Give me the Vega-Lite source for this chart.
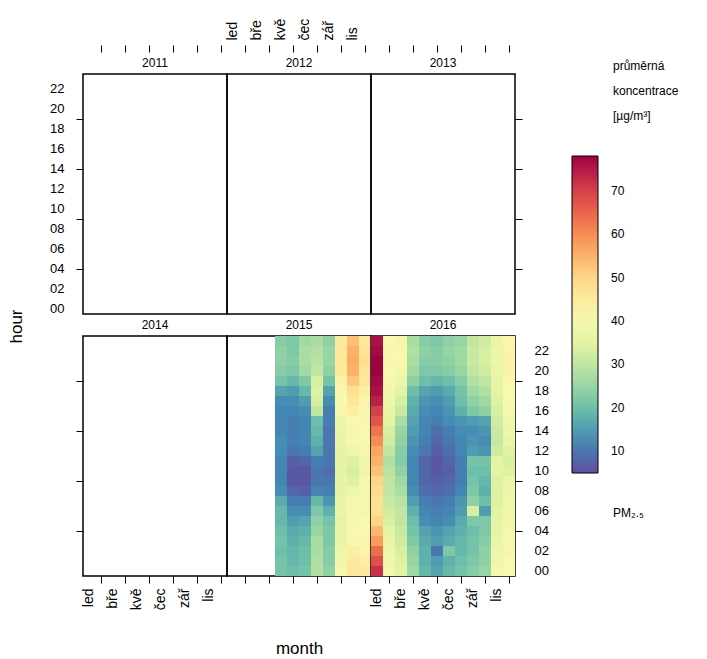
{
"$schema": "https://vega.github.io/schema/vega-lite/v6.json",
"padding": {"left": 6, "top": 17, "right": 0, "bottom": 0},
"config": {
  "font": "Liberation Sans",
  "view": {"stroke": "black", "strokeWidth": 1.5},
  "axis": {"grid": false, "domain": false, "tickColor": "black", "tickSize": 7, "tickWidth": 1, "labelColor": "black", "labelFont": "Liberation Sans", "labelOverlap": false, "titleFont": "Liberation Sans", "titleFontWeight": "normal", "titleColor": "black"},
  "text": {"font": "Liberation Sans", "color": "black"}
},
"datasets": {
  "panels": [{"yr": 2011}, {"yr": 2012}, {"yr": 2013}, {"yr": 2014}, {"yr": 2015}, {"yr": 2016}],
  "notes": [{"part": "top", "line": "průměrná"}, {"part": "top", "line": "koncentrace"}, {"part": "top", "line": "[µg/m³]"}, {"part": "bottom", "line": "PM₂.₅"}],
  "pm": [
{"yr":2015,"mo":5,"hr":0,"pm":21},{"yr":2015,"mo":5,"hr":1,"pm":21},{"yr":2015,"mo":5,"hr":2,"pm":20},{"yr":2015,"mo":5,"hr":3,"pm":21},{"yr":2015,"mo":5,"hr":4,"pm":20},{"yr":2015,"mo":5,"hr":5,"pm":19},{"yr":2015,"mo":5,"hr":6,"pm":19},{"yr":2015,"mo":5,"hr":7,"pm":17},{"yr":2015,"mo":5,"hr":8,"pm":13},{"yr":2015,"mo":5,"hr":9,"pm":12},{"yr":2015,"mo":5,"hr":10,"pm":12},{"yr":2015,"mo":5,"hr":11,"pm":12},{"yr":2015,"mo":5,"hr":12,"pm":13},{"yr":2015,"mo":5,"hr":13,"pm":13},{"yr":2015,"mo":5,"hr":14,"pm":12},{"yr":2015,"mo":5,"hr":15,"pm":12},{"yr":2015,"mo":5,"hr":16,"pm":12},{"yr":2015,"mo":5,"hr":17,"pm":13},{"yr":2015,"mo":5,"hr":18,"pm":16},{"yr":2015,"mo":5,"hr":19,"pm":21},{"yr":2015,"mo":5,"hr":20,"pm":23},{"yr":2015,"mo":5,"hr":21,"pm":24},{"yr":2015,"mo":5,"hr":22,"pm":24},{"yr":2015,"mo":5,"hr":23,"pm":23},
{"yr":2015,"mo":6,"hr":0,"pm":20},{"yr":2015,"mo":6,"hr":1,"pm":19},{"yr":2015,"mo":6,"hr":2,"pm":19},{"yr":2015,"mo":6,"hr":3,"pm":18},{"yr":2015,"mo":6,"hr":4,"pm":17},{"yr":2015,"mo":6,"hr":5,"pm":15},{"yr":2015,"mo":6,"hr":6,"pm":13},{"yr":2015,"mo":6,"hr":7,"pm":11},{"yr":2015,"mo":6,"hr":8,"pm":8},{"yr":2015,"mo":6,"hr":9,"pm":6},{"yr":2015,"mo":6,"hr":10,"pm":6},{"yr":2015,"mo":6,"hr":11,"pm":7},{"yr":2015,"mo":6,"hr":12,"pm":10},{"yr":2015,"mo":6,"hr":13,"pm":11},{"yr":2015,"mo":6,"hr":14,"pm":11},{"yr":2015,"mo":6,"hr":15,"pm":11},{"yr":2015,"mo":6,"hr":16,"pm":12},{"yr":2015,"mo":6,"hr":17,"pm":13},{"yr":2015,"mo":6,"hr":18,"pm":15},{"yr":2015,"mo":6,"hr":19,"pm":19},{"yr":2015,"mo":6,"hr":20,"pm":22},{"yr":2015,"mo":6,"hr":21,"pm":23},{"yr":2015,"mo":6,"hr":22,"pm":22},{"yr":2015,"mo":6,"hr":23,"pm":22},
{"yr":2015,"mo":7,"hr":0,"pm":21},{"yr":2015,"mo":7,"hr":1,"pm":20},{"yr":2015,"mo":7,"hr":2,"pm":20},{"yr":2015,"mo":7,"hr":3,"pm":19},{"yr":2015,"mo":7,"hr":4,"pm":18},{"yr":2015,"mo":7,"hr":5,"pm":16},{"yr":2015,"mo":7,"hr":6,"pm":13},{"yr":2015,"mo":7,"hr":7,"pm":11},{"yr":2015,"mo":7,"hr":8,"pm":7},{"yr":2015,"mo":7,"hr":9,"pm":6},{"yr":2015,"mo":7,"hr":10,"pm":6},{"yr":2015,"mo":7,"hr":11,"pm":8},{"yr":2015,"mo":7,"hr":12,"pm":11},{"yr":2015,"mo":7,"hr":13,"pm":12},{"yr":2015,"mo":7,"hr":14,"pm":12},{"yr":2015,"mo":7,"hr":15,"pm":12},{"yr":2015,"mo":7,"hr":16,"pm":13},{"yr":2015,"mo":7,"hr":17,"pm":15},{"yr":2015,"mo":7,"hr":18,"pm":19},{"yr":2015,"mo":7,"hr":19,"pm":22},{"yr":2015,"mo":7,"hr":20,"pm":26},{"yr":2015,"mo":7,"hr":21,"pm":27},{"yr":2015,"mo":7,"hr":22,"pm":27},{"yr":2015,"mo":7,"hr":23,"pm":26},
{"yr":2015,"mo":8,"hr":0,"pm":28},{"yr":2015,"mo":8,"hr":1,"pm":28},{"yr":2015,"mo":8,"hr":2,"pm":27},{"yr":2015,"mo":8,"hr":3,"pm":27},{"yr":2015,"mo":8,"hr":4,"pm":25},{"yr":2015,"mo":8,"hr":5,"pm":24},{"yr":2015,"mo":8,"hr":6,"pm":22},{"yr":2015,"mo":8,"hr":7,"pm":19},{"yr":2015,"mo":8,"hr":8,"pm":12},{"yr":2015,"mo":8,"hr":9,"pm":10},{"yr":2015,"mo":8,"hr":10,"pm":10},{"yr":2015,"mo":8,"hr":11,"pm":11},{"yr":2015,"mo":8,"hr":12,"pm":16},{"yr":2015,"mo":8,"hr":13,"pm":18},{"yr":2015,"mo":8,"hr":14,"pm":19},{"yr":2015,"mo":8,"hr":15,"pm":20},{"yr":2015,"mo":8,"hr":16,"pm":30},{"yr":2015,"mo":8,"hr":17,"pm":33},{"yr":2015,"mo":8,"hr":18,"pm":34},{"yr":2015,"mo":8,"hr":19,"pm":33},{"yr":2015,"mo":8,"hr":20,"pm":30},{"yr":2015,"mo":8,"hr":21,"pm":29},{"yr":2015,"mo":8,"hr":22,"pm":28},{"yr":2015,"mo":8,"hr":23,"pm":27},
{"yr":2015,"mo":9,"hr":0,"pm":24},{"yr":2015,"mo":9,"hr":1,"pm":23},{"yr":2015,"mo":9,"hr":2,"pm":23},{"yr":2015,"mo":9,"hr":3,"pm":22},{"yr":2015,"mo":9,"hr":4,"pm":22},{"yr":2015,"mo":9,"hr":5,"pm":21},{"yr":2015,"mo":9,"hr":6,"pm":18},{"yr":2015,"mo":9,"hr":7,"pm":14},{"yr":2015,"mo":9,"hr":8,"pm":11},{"yr":2015,"mo":9,"hr":9,"pm":10},{"yr":2015,"mo":9,"hr":10,"pm":9},{"yr":2015,"mo":9,"hr":11,"pm":10},{"yr":2015,"mo":9,"hr":12,"pm":10},{"yr":2015,"mo":9,"hr":13,"pm":10},{"yr":2015,"mo":9,"hr":14,"pm":10},{"yr":2015,"mo":9,"hr":15,"pm":11},{"yr":2015,"mo":9,"hr":16,"pm":11},{"yr":2015,"mo":9,"hr":17,"pm":13},{"yr":2015,"mo":9,"hr":18,"pm":16},{"yr":2015,"mo":9,"hr":19,"pm":21},{"yr":2015,"mo":9,"hr":20,"pm":24},{"yr":2015,"mo":9,"hr":21,"pm":25},{"yr":2015,"mo":9,"hr":22,"pm":25},{"yr":2015,"mo":9,"hr":23,"pm":24},
{"yr":2015,"mo":10,"hr":0,"pm":40},{"yr":2015,"mo":10,"hr":1,"pm":39},{"yr":2015,"mo":10,"hr":2,"pm":38},{"yr":2015,"mo":10,"hr":3,"pm":37},{"yr":2015,"mo":10,"hr":4,"pm":37},{"yr":2015,"mo":10,"hr":5,"pm":36},{"yr":2015,"mo":10,"hr":6,"pm":37},{"yr":2015,"mo":10,"hr":7,"pm":37},{"yr":2015,"mo":10,"hr":8,"pm":36},{"yr":2015,"mo":10,"hr":9,"pm":36},{"yr":2015,"mo":10,"hr":10,"pm":35},{"yr":2015,"mo":10,"hr":11,"pm":36},{"yr":2015,"mo":10,"hr":12,"pm":36},{"yr":2015,"mo":10,"hr":13,"pm":37},{"yr":2015,"mo":10,"hr":14,"pm":37},{"yr":2015,"mo":10,"hr":15,"pm":38},{"yr":2015,"mo":10,"hr":16,"pm":40},{"yr":2015,"mo":10,"hr":17,"pm":41},{"yr":2015,"mo":10,"hr":18,"pm":42},{"yr":2015,"mo":10,"hr":19,"pm":43},{"yr":2015,"mo":10,"hr":20,"pm":45},{"yr":2015,"mo":10,"hr":21,"pm":46},{"yr":2015,"mo":10,"hr":22,"pm":46},{"yr":2015,"mo":10,"hr":23,"pm":45},
{"yr":2015,"mo":11,"hr":0,"pm":46},{"yr":2015,"mo":11,"hr":1,"pm":45},{"yr":2015,"mo":11,"hr":2,"pm":44},{"yr":2015,"mo":11,"hr":3,"pm":42},{"yr":2015,"mo":11,"hr":4,"pm":41},{"yr":2015,"mo":11,"hr":5,"pm":40},{"yr":2015,"mo":11,"hr":6,"pm":40},{"yr":2015,"mo":11,"hr":7,"pm":40},{"yr":2015,"mo":11,"hr":8,"pm":38},{"yr":2015,"mo":11,"hr":9,"pm":34},{"yr":2015,"mo":11,"hr":10,"pm":33},{"yr":2015,"mo":11,"hr":11,"pm":34},{"yr":2015,"mo":11,"hr":12,"pm":38},{"yr":2015,"mo":11,"hr":13,"pm":40},{"yr":2015,"mo":11,"hr":14,"pm":40},{"yr":2015,"mo":11,"hr":15,"pm":41},{"yr":2015,"mo":11,"hr":16,"pm":44},{"yr":2015,"mo":11,"hr":17,"pm":46},{"yr":2015,"mo":11,"hr":18,"pm":48},{"yr":2015,"mo":11,"hr":19,"pm":52},{"yr":2015,"mo":11,"hr":20,"pm":55},{"yr":2015,"mo":11,"hr":21,"pm":56},{"yr":2015,"mo":11,"hr":22,"pm":55},{"yr":2015,"mo":11,"hr":23,"pm":53},
{"yr":2015,"mo":12,"hr":0,"pm":45},{"yr":2015,"mo":12,"hr":1,"pm":44},{"yr":2015,"mo":12,"hr":2,"pm":43},{"yr":2015,"mo":12,"hr":3,"pm":42},{"yr":2015,"mo":12,"hr":4,"pm":41},{"yr":2015,"mo":12,"hr":5,"pm":41},{"yr":2015,"mo":12,"hr":6,"pm":40},{"yr":2015,"mo":12,"hr":7,"pm":40},{"yr":2015,"mo":12,"hr":8,"pm":40},{"yr":2015,"mo":12,"hr":9,"pm":40},{"yr":2015,"mo":12,"hr":10,"pm":39},{"yr":2015,"mo":12,"hr":11,"pm":39},{"yr":2015,"mo":12,"hr":12,"pm":40},{"yr":2015,"mo":12,"hr":13,"pm":41},{"yr":2015,"mo":12,"hr":14,"pm":41},{"yr":2015,"mo":12,"hr":15,"pm":42},{"yr":2015,"mo":12,"hr":16,"pm":42},{"yr":2015,"mo":12,"hr":17,"pm":43},{"yr":2015,"mo":12,"hr":18,"pm":44},{"yr":2015,"mo":12,"hr":19,"pm":46},{"yr":2015,"mo":12,"hr":20,"pm":47},{"yr":2015,"mo":12,"hr":21,"pm":48},{"yr":2015,"mo":12,"hr":22,"pm":47},{"yr":2015,"mo":12,"hr":23,"pm":46},
{"yr":2016,"mo":1,"hr":0,"pm":72},{"yr":2016,"mo":1,"hr":1,"pm":68},{"yr":2016,"mo":1,"hr":2,"pm":64},{"yr":2016,"mo":1,"hr":3,"pm":58},{"yr":2016,"mo":1,"hr":4,"pm":54},{"yr":2016,"mo":1,"hr":5,"pm":50},{"yr":2016,"mo":1,"hr":6,"pm":48},{"yr":2016,"mo":1,"hr":7,"pm":48},{"yr":2016,"mo":1,"hr":8,"pm":49},{"yr":2016,"mo":1,"hr":9,"pm":50},{"yr":2016,"mo":1,"hr":10,"pm":53},{"yr":2016,"mo":1,"hr":11,"pm":55},{"yr":2016,"mo":1,"hr":12,"pm":57},{"yr":2016,"mo":1,"hr":13,"pm":60},{"yr":2016,"mo":1,"hr":14,"pm":63},{"yr":2016,"mo":1,"hr":15,"pm":67},{"yr":2016,"mo":1,"hr":16,"pm":70},{"yr":2016,"mo":1,"hr":17,"pm":74},{"yr":2016,"mo":1,"hr":18,"pm":76},{"yr":2016,"mo":1,"hr":19,"pm":77},{"yr":2016,"mo":1,"hr":20,"pm":78},{"yr":2016,"mo":1,"hr":21,"pm":78},{"yr":2016,"mo":1,"hr":22,"pm":77},{"yr":2016,"mo":1,"hr":23,"pm":76},
{"yr":2016,"mo":2,"hr":0,"pm":40},{"yr":2016,"mo":2,"hr":1,"pm":39},{"yr":2016,"mo":2,"hr":2,"pm":38},{"yr":2016,"mo":2,"hr":3,"pm":37},{"yr":2016,"mo":2,"hr":4,"pm":35},{"yr":2016,"mo":2,"hr":5,"pm":33},{"yr":2016,"mo":2,"hr":6,"pm":32},{"yr":2016,"mo":2,"hr":7,"pm":31},{"yr":2016,"mo":2,"hr":8,"pm":30},{"yr":2016,"mo":2,"hr":9,"pm":30},{"yr":2016,"mo":2,"hr":10,"pm":29},{"yr":2016,"mo":2,"hr":11,"pm":28},{"yr":2016,"mo":2,"hr":12,"pm":30},{"yr":2016,"mo":2,"hr":13,"pm":32},{"yr":2016,"mo":2,"hr":14,"pm":33},{"yr":2016,"mo":2,"hr":15,"pm":35},{"yr":2016,"mo":2,"hr":16,"pm":37},{"yr":2016,"mo":2,"hr":17,"pm":38},{"yr":2016,"mo":2,"hr":18,"pm":39},{"yr":2016,"mo":2,"hr":19,"pm":40},{"yr":2016,"mo":2,"hr":20,"pm":41},{"yr":2016,"mo":2,"hr":21,"pm":42},{"yr":2016,"mo":2,"hr":22,"pm":42},{"yr":2016,"mo":2,"hr":23,"pm":41},
{"yr":2016,"mo":3,"hr":0,"pm":35},{"yr":2016,"mo":3,"hr":1,"pm":34},{"yr":2016,"mo":3,"hr":2,"pm":33},{"yr":2016,"mo":3,"hr":3,"pm":32},{"yr":2016,"mo":3,"hr":4,"pm":31},{"yr":2016,"mo":3,"hr":5,"pm":30},{"yr":2016,"mo":3,"hr":6,"pm":30},{"yr":2016,"mo":3,"hr":7,"pm":29},{"yr":2016,"mo":3,"hr":8,"pm":27},{"yr":2016,"mo":3,"hr":9,"pm":26},{"yr":2016,"mo":3,"hr":10,"pm":24},{"yr":2016,"mo":3,"hr":11,"pm":23},{"yr":2016,"mo":3,"hr":12,"pm":23},{"yr":2016,"mo":3,"hr":13,"pm":24},{"yr":2016,"mo":3,"hr":14,"pm":25},{"yr":2016,"mo":3,"hr":15,"pm":27},{"yr":2016,"mo":3,"hr":16,"pm":31},{"yr":2016,"mo":3,"hr":17,"pm":33},{"yr":2016,"mo":3,"hr":18,"pm":35},{"yr":2016,"mo":3,"hr":19,"pm":38},{"yr":2016,"mo":3,"hr":20,"pm":40},{"yr":2016,"mo":3,"hr":21,"pm":41},{"yr":2016,"mo":3,"hr":22,"pm":41},{"yr":2016,"mo":3,"hr":23,"pm":40},
{"yr":2016,"mo":4,"hr":0,"pm":26},{"yr":2016,"mo":4,"hr":1,"pm":25},{"yr":2016,"mo":4,"hr":2,"pm":24},{"yr":2016,"mo":4,"hr":3,"pm":22},{"yr":2016,"mo":4,"hr":4,"pm":21},{"yr":2016,"mo":4,"hr":5,"pm":20},{"yr":2016,"mo":4,"hr":6,"pm":18},{"yr":2016,"mo":4,"hr":7,"pm":15},{"yr":2016,"mo":4,"hr":8,"pm":13},{"yr":2016,"mo":4,"hr":9,"pm":12},{"yr":2016,"mo":4,"hr":10,"pm":12},{"yr":2016,"mo":4,"hr":11,"pm":12},{"yr":2016,"mo":4,"hr":12,"pm":13},{"yr":2016,"mo":4,"hr":13,"pm":14},{"yr":2016,"mo":4,"hr":14,"pm":15},{"yr":2016,"mo":4,"hr":15,"pm":16},{"yr":2016,"mo":4,"hr":16,"pm":17},{"yr":2016,"mo":4,"hr":17,"pm":18},{"yr":2016,"mo":4,"hr":18,"pm":20},{"yr":2016,"mo":4,"hr":19,"pm":24},{"yr":2016,"mo":4,"hr":20,"pm":26},{"yr":2016,"mo":4,"hr":21,"pm":27},{"yr":2016,"mo":4,"hr":22,"pm":28},{"yr":2016,"mo":4,"hr":23,"pm":27},
{"yr":2016,"mo":5,"hr":0,"pm":19},{"yr":2016,"mo":5,"hr":1,"pm":18},{"yr":2016,"mo":5,"hr":2,"pm":18},{"yr":2016,"mo":5,"hr":3,"pm":17},{"yr":2016,"mo":5,"hr":4,"pm":16},{"yr":2016,"mo":5,"hr":5,"pm":13},{"yr":2016,"mo":5,"hr":6,"pm":12},{"yr":2016,"mo":5,"hr":7,"pm":11},{"yr":2016,"mo":5,"hr":8,"pm":9},{"yr":2016,"mo":5,"hr":9,"pm":8},{"yr":2016,"mo":5,"hr":10,"pm":8},{"yr":2016,"mo":5,"hr":11,"pm":8},{"yr":2016,"mo":5,"hr":12,"pm":10},{"yr":2016,"mo":5,"hr":13,"pm":11},{"yr":2016,"mo":5,"hr":14,"pm":12},{"yr":2016,"mo":5,"hr":15,"pm":12},{"yr":2016,"mo":5,"hr":16,"pm":13},{"yr":2016,"mo":5,"hr":17,"pm":14},{"yr":2016,"mo":5,"hr":18,"pm":16},{"yr":2016,"mo":5,"hr":19,"pm":20},{"yr":2016,"mo":5,"hr":20,"pm":22},{"yr":2016,"mo":5,"hr":21,"pm":23},{"yr":2016,"mo":5,"hr":22,"pm":24},{"yr":2016,"mo":5,"hr":23,"pm":23},
{"yr":2016,"mo":6,"hr":0,"pm":16},{"yr":2016,"mo":6,"hr":1,"pm":15},{"yr":2016,"mo":6,"hr":2,"pm":10},{"yr":2016,"mo":6,"hr":3,"pm":15},{"yr":2016,"mo":6,"hr":4,"pm":14},{"yr":2016,"mo":6,"hr":5,"pm":12},{"yr":2016,"mo":6,"hr":6,"pm":11},{"yr":2016,"mo":6,"hr":7,"pm":10},{"yr":2016,"mo":6,"hr":8,"pm":8},{"yr":2016,"mo":6,"hr":9,"pm":7},{"yr":2016,"mo":6,"hr":10,"pm":6},{"yr":2016,"mo":6,"hr":11,"pm":6},{"yr":2016,"mo":6,"hr":12,"pm":7},{"yr":2016,"mo":6,"hr":13,"pm":8},{"yr":2016,"mo":6,"hr":14,"pm":9},{"yr":2016,"mo":6,"hr":15,"pm":11},{"yr":2016,"mo":6,"hr":16,"pm":12},{"yr":2016,"mo":6,"hr":17,"pm":13},{"yr":2016,"mo":6,"hr":18,"pm":15},{"yr":2016,"mo":6,"hr":19,"pm":19},{"yr":2016,"mo":6,"hr":20,"pm":22},{"yr":2016,"mo":6,"hr":21,"pm":23},{"yr":2016,"mo":6,"hr":22,"pm":23},{"yr":2016,"mo":6,"hr":23,"pm":22},
{"yr":2016,"mo":7,"hr":0,"pm":19},{"yr":2016,"mo":7,"hr":1,"pm":18},{"yr":2016,"mo":7,"hr":2,"pm":22},{"yr":2016,"mo":7,"hr":3,"pm":17},{"yr":2016,"mo":7,"hr":4,"pm":16},{"yr":2016,"mo":7,"hr":5,"pm":13},{"yr":2016,"mo":7,"hr":6,"pm":12},{"yr":2016,"mo":7,"hr":7,"pm":11},{"yr":2016,"mo":7,"hr":8,"pm":9},{"yr":2016,"mo":7,"hr":9,"pm":8},{"yr":2016,"mo":7,"hr":10,"pm":7},{"yr":2016,"mo":7,"hr":11,"pm":8},{"yr":2016,"mo":7,"hr":12,"pm":9},{"yr":2016,"mo":7,"hr":13,"pm":10},{"yr":2016,"mo":7,"hr":14,"pm":11},{"yr":2016,"mo":7,"hr":15,"pm":13},{"yr":2016,"mo":7,"hr":16,"pm":14},{"yr":2016,"mo":7,"hr":17,"pm":15},{"yr":2016,"mo":7,"hr":18,"pm":17},{"yr":2016,"mo":7,"hr":19,"pm":20},{"yr":2016,"mo":7,"hr":20,"pm":23},{"yr":2016,"mo":7,"hr":21,"pm":24},{"yr":2016,"mo":7,"hr":22,"pm":25},{"yr":2016,"mo":7,"hr":23,"pm":24},
{"yr":2016,"mo":8,"hr":0,"pm":21},{"yr":2016,"mo":8,"hr":1,"pm":20},{"yr":2016,"mo":8,"hr":2,"pm":19},{"yr":2016,"mo":8,"hr":3,"pm":19},{"yr":2016,"mo":8,"hr":4,"pm":18},{"yr":2016,"mo":8,"hr":5,"pm":17},{"yr":2016,"mo":8,"hr":6,"pm":15},{"yr":2016,"mo":8,"hr":7,"pm":14},{"yr":2016,"mo":8,"hr":8,"pm":12},{"yr":2016,"mo":8,"hr":9,"pm":11},{"yr":2016,"mo":8,"hr":10,"pm":11},{"yr":2016,"mo":8,"hr":11,"pm":11},{"yr":2016,"mo":8,"hr":12,"pm":12},{"yr":2016,"mo":8,"hr":13,"pm":12},{"yr":2016,"mo":8,"hr":14,"pm":13},{"yr":2016,"mo":8,"hr":15,"pm":14},{"yr":2016,"mo":8,"hr":16,"pm":18},{"yr":2016,"mo":8,"hr":17,"pm":20},{"yr":2016,"mo":8,"hr":18,"pm":21},{"yr":2016,"mo":8,"hr":19,"pm":23},{"yr":2016,"mo":8,"hr":20,"pm":25},{"yr":2016,"mo":8,"hr":21,"pm":26},{"yr":2016,"mo":8,"hr":22,"pm":26},{"yr":2016,"mo":8,"hr":23,"pm":25},
{"yr":2016,"mo":9,"hr":0,"pm":23},{"yr":2016,"mo":9,"hr":1,"pm":22},{"yr":2016,"mo":9,"hr":2,"pm":21},{"yr":2016,"mo":9,"hr":3,"pm":21},{"yr":2016,"mo":9,"hr":4,"pm":20},{"yr":2016,"mo":9,"hr":5,"pm":22},{"yr":2016,"mo":9,"hr":6,"pm":33},{"yr":2016,"mo":9,"hr":7,"pm":24},{"yr":2016,"mo":9,"hr":8,"pm":22},{"yr":2016,"mo":9,"hr":9,"pm":21},{"yr":2016,"mo":9,"hr":10,"pm":20},{"yr":2016,"mo":9,"hr":11,"pm":21},{"yr":2016,"mo":9,"hr":12,"pm":15},{"yr":2016,"mo":9,"hr":13,"pm":14},{"yr":2016,"mo":9,"hr":14,"pm":13},{"yr":2016,"mo":9,"hr":15,"pm":15},{"yr":2016,"mo":9,"hr":16,"pm":22},{"yr":2016,"mo":9,"hr":17,"pm":24},{"yr":2016,"mo":9,"hr":18,"pm":26},{"yr":2016,"mo":9,"hr":19,"pm":28},{"yr":2016,"mo":9,"hr":20,"pm":30},{"yr":2016,"mo":9,"hr":21,"pm":31},{"yr":2016,"mo":9,"hr":22,"pm":31},{"yr":2016,"mo":9,"hr":23,"pm":30},
{"yr":2016,"mo":10,"hr":0,"pm":25},{"yr":2016,"mo":10,"hr":1,"pm":24},{"yr":2016,"mo":10,"hr":2,"pm":24},{"yr":2016,"mo":10,"hr":3,"pm":23},{"yr":2016,"mo":10,"hr":4,"pm":22},{"yr":2016,"mo":10,"hr":5,"pm":22},{"yr":2016,"mo":10,"hr":6,"pm":15},{"yr":2016,"mo":10,"hr":7,"pm":20},{"yr":2016,"mo":10,"hr":8,"pm":18},{"yr":2016,"mo":10,"hr":9,"pm":19},{"yr":2016,"mo":10,"hr":10,"pm":20},{"yr":2016,"mo":10,"hr":11,"pm":21},{"yr":2016,"mo":10,"hr":12,"pm":14},{"yr":2016,"mo":10,"hr":13,"pm":13},{"yr":2016,"mo":10,"hr":14,"pm":14},{"yr":2016,"mo":10,"hr":15,"pm":16},{"yr":2016,"mo":10,"hr":16,"pm":24},{"yr":2016,"mo":10,"hr":17,"pm":26},{"yr":2016,"mo":10,"hr":18,"pm":28},{"yr":2016,"mo":10,"hr":19,"pm":30},{"yr":2016,"mo":10,"hr":20,"pm":32},{"yr":2016,"mo":10,"hr":21,"pm":33},{"yr":2016,"mo":10,"hr":22,"pm":33},{"yr":2016,"mo":10,"hr":23,"pm":32},
{"yr":2016,"mo":11,"hr":0,"pm":40},{"yr":2016,"mo":11,"hr":1,"pm":39},{"yr":2016,"mo":11,"hr":2,"pm":38},{"yr":2016,"mo":11,"hr":3,"pm":37},{"yr":2016,"mo":11,"hr":4,"pm":36},{"yr":2016,"mo":11,"hr":5,"pm":35},{"yr":2016,"mo":11,"hr":6,"pm":35},{"yr":2016,"mo":11,"hr":7,"pm":34},{"yr":2016,"mo":11,"hr":8,"pm":34},{"yr":2016,"mo":11,"hr":9,"pm":34},{"yr":2016,"mo":11,"hr":10,"pm":35},{"yr":2016,"mo":11,"hr":11,"pm":35},{"yr":2016,"mo":11,"hr":12,"pm":32},{"yr":2016,"mo":11,"hr":13,"pm":31},{"yr":2016,"mo":11,"hr":14,"pm":31},{"yr":2016,"mo":11,"hr":15,"pm":32},{"yr":2016,"mo":11,"hr":16,"pm":33},{"yr":2016,"mo":11,"hr":17,"pm":34},{"yr":2016,"mo":11,"hr":18,"pm":35},{"yr":2016,"mo":11,"hr":19,"pm":36},{"yr":2016,"mo":11,"hr":20,"pm":37},{"yr":2016,"mo":11,"hr":21,"pm":38},{"yr":2016,"mo":11,"hr":22,"pm":38},{"yr":2016,"mo":11,"hr":23,"pm":37},
{"yr":2016,"mo":12,"hr":0,"pm":41},{"yr":2016,"mo":12,"hr":1,"pm":41},{"yr":2016,"mo":12,"hr":2,"pm":40},{"yr":2016,"mo":12,"hr":3,"pm":40},{"yr":2016,"mo":12,"hr":4,"pm":40},{"yr":2016,"mo":12,"hr":5,"pm":39},{"yr":2016,"mo":12,"hr":6,"pm":39},{"yr":2016,"mo":12,"hr":7,"pm":39},{"yr":2016,"mo":12,"hr":8,"pm":38},{"yr":2016,"mo":12,"hr":9,"pm":37},{"yr":2016,"mo":12,"hr":10,"pm":34},{"yr":2016,"mo":12,"hr":11,"pm":33},{"yr":2016,"mo":12,"hr":12,"pm":34},{"yr":2016,"mo":12,"hr":13,"pm":37},{"yr":2016,"mo":12,"hr":14,"pm":38},{"yr":2016,"mo":12,"hr":15,"pm":39},{"yr":2016,"mo":12,"hr":16,"pm":40},{"yr":2016,"mo":12,"hr":17,"pm":41},{"yr":2016,"mo":12,"hr":18,"pm":41},{"yr":2016,"mo":12,"hr":19,"pm":42},{"yr":2016,"mo":12,"hr":20,"pm":43},{"yr":2016,"mo":12,"hr":21,"pm":43},{"yr":2016,"mo":12,"hr":22,"pm":43},{"yr":2016,"mo":12,"hr":23,"pm":42}
  ]
},
"spacing": 63,
"hconcat": [
 {
  "columns": 3, "spacing": 0, "bounds": "flush",
  "concat": [
   {"width": 144, "height": 22, "data": {"name": "panels"}, "transform": [{"filter": "datum.yr == 2011"}], "mark": {"type": "text", "fontSize": 12}, "encoding": {"text": {"field": "yr"}}},
   {"width": 144, "height": 22, "data": {"name": "panels"}, "transform": [{"filter": "datum.yr == 2012"}], "mark": {"type": "text", "fontSize": 12}, "encoding": {"text": {"field": "yr"}}},
   {"width": 144, "height": 22, "data": {"name": "panels"}, "transform": [{"filter": "datum.yr == 2013"}], "mark": {"type": "text", "fontSize": 12}, "encoding": {"text": {"field": "yr"}}},
   {"width": 144, "height": 240, "data": {"name": "pm"}, "transform": [{"filter": "datum.yr == 2011"}], "mark": {"type": "rect"},
    "encoding": {
     "x": {"field": "mo", "type": "ordinal", "scale": {"domain": [1,2,3,4,5,6,7,8,9,10,11,12], "paddingInner": 0, "paddingOuter": 0}, "axis": {"orient": "top", "offset": 22, "labels": false, "title": null, "tickOpacity": {"condition": {"test": "datum.value % 2 == 0", "value": 1}, "value": 0}}},
     "y": {"field": "hr", "type": "ordinal", "scale": {"domain": [23,22,21,20,19,18,17,16,15,14,13,12,11,10,9,8,7,6,5,4,3,2,1,0], "paddingInner": 0, "paddingOuter": 0}, "axis": {"orient": "left", "labelExpr": "datum.value % 2 == 0 ? (datum.value < 10 ? '0' + datum.value : '' + datum.value) : ''", "labelFontSize": 13, "labelPadding": 12, "title": "hour", "titleFontSize": 17, "titleX": -58, "titleY": 252, "tickOpacity": {"condition": {"test": "datum.value % 5 == 4", "value": 1}, "value": 0}}},
     "color": {"field": "pm", "type": "quantitative", "scale": {"domain": [5, 78], "scheme": "spectral", "reverse": true}, "legend": {"orient": "none", "legendX": 489, "legendY": 104, "title": null, "direction": "vertical", "gradientLength": 317, "gradientThickness": 26, "gradientStrokeColor": "black", "gradientStrokeWidth": 1, "labelFontSize": 12, "labelOffset": 13, "labelColor": "black", "values": [10,20,30,40,50,60,70]}}
    }},
   {"width": 144, "height": 240, "data": {"name": "pm"}, "transform": [{"filter": "datum.yr == 2012"}], "mark": {"type": "rect"},
    "encoding": {
     "x": {"field": "mo", "type": "ordinal", "scale": {"domain": [1,2,3,4,5,6,7,8,9,10,11,12], "paddingInner": 0, "paddingOuter": 0}, "axis": {"orient": "top", "offset": 22, "labelAngle": 270, "labelFontSize": 14, "labelPadding": 5, "labelExpr": "datum.value == 1 ? 'led' : datum.value == 3 ? 'bře' : datum.value == 5 ? 'kvě' : datum.value == 7 ? 'čec' : datum.value == 9 ? 'zář' : datum.value == 11 ? 'lis' : ''", "title": null, "tickOpacity": {"condition": {"test": "datum.value % 2 == 0", "value": 1}, "value": 0}}},
     "y": {"field": "hr", "type": "ordinal", "scale": {"domain": [23,22,21,20,19,18,17,16,15,14,13,12,11,10,9,8,7,6,5,4,3,2,1,0], "paddingInner": 0, "paddingOuter": 0}, "axis": null},
     "color": {"field": "pm", "type": "quantitative", "scale": {"domain": [5, 78], "scheme": "spectral", "reverse": true}, "legend": {"orient": "none", "legendX": 489, "legendY": 104, "title": null, "direction": "vertical", "gradientLength": 317, "gradientThickness": 26, "gradientStrokeColor": "black", "gradientStrokeWidth": 1, "labelFontSize": 12, "labelOffset": 13, "labelColor": "black", "values": [10,20,30,40,50,60,70]}}
    }},
   {"width": 144, "height": 240, "data": {"name": "pm"}, "transform": [{"filter": "datum.yr == 2013"}], "mark": {"type": "rect"},
    "encoding": {
     "x": {"field": "mo", "type": "ordinal", "scale": {"domain": [1,2,3,4,5,6,7,8,9,10,11,12], "paddingInner": 0, "paddingOuter": 0}, "axis": {"orient": "top", "offset": 22, "labels": false, "title": null, "tickOpacity": {"condition": {"test": "datum.value % 2 == 0", "value": 1}, "value": 0}}},
     "y": {"field": "hr", "type": "ordinal", "scale": {"domain": [23,22,21,20,19,18,17,16,15,14,13,12,11,10,9,8,7,6,5,4,3,2,1,0], "paddingInner": 0, "paddingOuter": 0}, "axis": {"orient": "right", "labels": false, "title": null, "tickOpacity": {"condition": {"test": "datum.value % 5 == 4", "value": 1}, "value": 0}}},
     "color": {"field": "pm", "type": "quantitative", "scale": {"domain": [5, 78], "scheme": "spectral", "reverse": true}, "legend": {"orient": "none", "legendX": 489, "legendY": 104, "title": null, "direction": "vertical", "gradientLength": 317, "gradientThickness": 26, "gradientStrokeColor": "black", "gradientStrokeWidth": 1, "labelFontSize": 12, "labelOffset": 13, "labelColor": "black", "values": [10,20,30,40,50,60,70]}}
    }},
   {"width": 144, "height": 22, "data": {"name": "panels"}, "transform": [{"filter": "datum.yr == 2014"}], "mark": {"type": "text", "fontSize": 12}, "encoding": {"text": {"field": "yr"}}},
   {"width": 144, "height": 22, "data": {"name": "panels"}, "transform": [{"filter": "datum.yr == 2015"}], "mark": {"type": "text", "fontSize": 12}, "encoding": {"text": {"field": "yr"}}},
   {"width": 144, "height": 22, "data": {"name": "panels"}, "transform": [{"filter": "datum.yr == 2016"}], "mark": {"type": "text", "fontSize": 12}, "encoding": {"text": {"field": "yr"}}},
   {"width": 144, "height": 240, "data": {"name": "pm"}, "transform": [{"filter": "datum.yr == 2014"}], "mark": {"type": "rect"},
    "encoding": {
     "x": {"field": "mo", "type": "ordinal", "scale": {"domain": [1,2,3,4,5,6,7,8,9,10,11,12], "paddingInner": 0, "paddingOuter": 0}, "axis": {"orient": "bottom", "labelAngle": 270, "labelFontSize": 14, "labelPadding": 5, "labelExpr": "datum.value == 1 ? 'led' : datum.value == 3 ? 'bře' : datum.value == 5 ? 'kvě' : datum.value == 7 ? 'čec' : datum.value == 9 ? 'zář' : datum.value == 11 ? 'lis' : ''", "title": null, "tickOpacity": {"condition": {"test": "datum.value % 2 == 0", "value": 1}, "value": 0}}},
     "y": {"field": "hr", "type": "ordinal", "scale": {"domain": [23,22,21,20,19,18,17,16,15,14,13,12,11,10,9,8,7,6,5,4,3,2,1,0], "paddingInner": 0, "paddingOuter": 0}, "axis": {"orient": "left", "labels": false, "title": null, "tickOpacity": {"condition": {"test": "datum.value % 5 == 4", "value": 1}, "value": 0}}},
     "color": {"field": "pm", "type": "quantitative", "scale": {"domain": [5, 78], "scheme": "spectral", "reverse": true}, "legend": {"orient": "none", "legendX": 489, "legendY": 104, "title": null, "direction": "vertical", "gradientLength": 317, "gradientThickness": 26, "gradientStrokeColor": "black", "gradientStrokeWidth": 1, "labelFontSize": 12, "labelOffset": 13, "labelColor": "black", "values": [10,20,30,40,50,60,70]}}
    }},
   {"width": 144, "height": 240, "data": {"name": "pm"}, "transform": [{"filter": "datum.yr == 2015"}], "mark": {"type": "rect"},
    "encoding": {
     "x": {"field": "mo", "type": "ordinal", "scale": {"domain": [1,2,3,4,5,6,7,8,9,10,11,12], "paddingInner": 0, "paddingOuter": 0}, "axis": {"orient": "bottom", "labels": false, "title": "month", "titleFontSize": 17, "titlePadding": 57, "tickOpacity": {"condition": {"test": "datum.value % 2 == 0", "value": 1}, "value": 0}}},
     "y": {"field": "hr", "type": "ordinal", "scale": {"domain": [23,22,21,20,19,18,17,16,15,14,13,12,11,10,9,8,7,6,5,4,3,2,1,0], "paddingInner": 0, "paddingOuter": 0}, "axis": null},
     "color": {"field": "pm", "type": "quantitative", "scale": {"domain": [5, 78], "scheme": "spectral", "reverse": true}, "legend": {"orient": "none", "legendX": 489, "legendY": 104, "title": null, "direction": "vertical", "gradientLength": 317, "gradientThickness": 26, "gradientStrokeColor": "black", "gradientStrokeWidth": 1, "labelFontSize": 12, "labelOffset": 13, "labelColor": "black", "values": [10,20,30,40,50,60,70]}}
    }},
   {"width": 144, "height": 240, "data": {"name": "pm"}, "transform": [{"filter": "datum.yr == 2016"}], "mark": {"type": "rect"},
    "encoding": {
     "x": {"field": "mo", "type": "ordinal", "scale": {"domain": [1,2,3,4,5,6,7,8,9,10,11,12], "paddingInner": 0, "paddingOuter": 0}, "axis": {"orient": "bottom", "labelAngle": 270, "labelFontSize": 14, "labelPadding": 5, "labelExpr": "datum.value == 1 ? 'led' : datum.value == 3 ? 'bře' : datum.value == 5 ? 'kvě' : datum.value == 7 ? 'čec' : datum.value == 9 ? 'zář' : datum.value == 11 ? 'lis' : ''", "title": null, "tickOpacity": {"condition": {"test": "datum.value % 2 == 0", "value": 1}, "value": 0}}},
     "y": {"field": "hr", "type": "ordinal", "scale": {"domain": [23,22,21,20,19,18,17,16,15,14,13,12,11,10,9,8,7,6,5,4,3,2,1,0], "paddingInner": 0, "paddingOuter": 0}, "axis": {"orient": "right", "labelExpr": "datum.value % 2 == 0 ? (datum.value < 10 ? '0' + datum.value : '' + datum.value) : ''", "labelFontSize": 13, "labelPadding": 12, "title": null, "tickOpacity": {"condition": {"test": "datum.value % 5 == 4", "value": 1}, "value": 0}}},
     "color": {"field": "pm", "type": "quantitative", "scale": {"domain": [5, 78], "scheme": "spectral", "reverse": true}, "legend": {"orient": "none", "legendX": 489, "legendY": 104, "title": null, "direction": "vertical", "gradientLength": 317, "gradientThickness": 26, "gradientStrokeColor": "black", "gradientStrokeWidth": 1, "labelFontSize": 12, "labelOffset": 13, "labelColor": "black", "values": [10,20,30,40,50,60,70]}}
    }}
  ]
 },
 {
  "width": 80, "height": 524,
  "view": {"stroke": null},
  "data": {"name": "notes"},
  "layer": [
   {"transform": [{"filter": "datum.part == 'top'"}], "mark": {"type": "text", "align": "left", "baseline": "middle", "fontSize": 12},
    "encoding": {"text": {"field": "line"}, "x": {"datum": 0, "type": "quantitative", "scale": {"domain": [0, 1]}, "axis": null},
     "y": {"field": "line", "type": "nominal", "axis": null, "scale": {"type": "point", "padding": 0, "domain": ["průměrná", "koncentrace", "[µg/m³]"], "range": [14, 64]}}}},
   {"transform": [{"filter": "datum.part == 'bottom'"}], "mark": {"type": "text", "align": "left", "baseline": "middle", "fontSize": 12},
    "encoding": {"text": {"field": "line"}, "x": {"datum": 0, "type": "quantitative", "scale": {"domain": [0, 1]}, "axis": null},
     "y": {"field": "line", "type": "nominal", "axis": null, "scale": {"type": "point", "domain": ["PM₂.₅"], "range": [461, 461]}}}}
  ],
  "resolve": {"scale": {"y": "independent"}}
 }
]
}
